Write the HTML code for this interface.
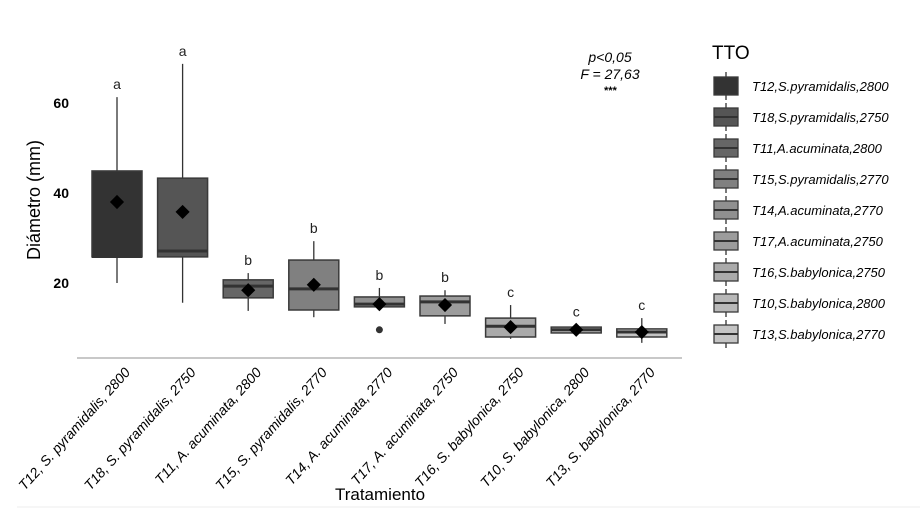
<!DOCTYPE html>
<html><head><meta charset="utf-8">
<style>
body{margin:0;background:#fff;width:920px;height:510px;overflow:hidden;font-family:"Liberation Sans",sans-serif}
svg{display:block}
</style></head>
<body>
<svg id="chart" width="920" height="510">
<text x="0" y="0" transform="translate(40,200) rotate(-90)" text-anchor="middle" font-size="18" fill="#000">Diámetro (mm)</text>
<text x="380" y="500" text-anchor="middle" font-size="17" fill="#000">Tratamiento</text>
<line x1="77" y1="358" x2="682" y2="358" stroke="#c8c8c8" stroke-width="2"/>
<line x1="17" y1="507" x2="920" y2="507" stroke="#eeeeee" stroke-width="1"/>
<g font-style="italic" font-size="14" font-weight="bold" text-anchor="middle" fill="#000">
<text x="610" y="62" font-weight="normal">p&lt;0,05</text>
<text x="610" y="79" font-weight="normal">F = 27,63</text>
<text x="610" y="94" font-size="11">***</text>
</g>
<text x="712" y="59" font-size="19" fill="#000">TTO</text>
<g id="plot"></g>
<g id="legend"></g>
</svg>
<script>
const categories=["T12, S. pyramidalis, 2800","T18, S. pyramidalis, 2750","T11, A. acuminata, 2800","T15, S. pyramidalis, 2770","T14, A. acuminata, 2770","T17, A. acuminata, 2750","T16, S. babylonica, 2750","T10, S. babylonica, 2800","T13, S. babylonica, 2770"];
const legendLabels=["T12,S.pyramidalis,2800","T18,S.pyramidalis,2750","T11,A.acuminata,2800","T15,S.pyramidalis,2770","T14,A.acuminata,2770","T17,A.acuminata,2750","T16,S.babylonica,2750","T10,S.babylonica,2800","T13,S.babylonica,2770"];
const whiskerLow=[20,15.6,13.8,12.4,14.7,10.9,7.6,8.9,6.7];
const q1=[25.8,25.8,16.7,14,14.7,12.7,8,8.9,8];
const medians=[25.9,27.1,19.3,18.7,15.3,15.8,10.4,9.6,9.1];
const q3=[44.9,43.3,20.7,25.1,16.9,17.1,12.2,10.2,9.8];
const whiskerHigh=[61.3,68.7,22.2,29.3,18.9,18.4,15.1,10.8,12.2];
const means=[38,35.8,18.4,19.6,15.3,15.1,10.2,9.6,9.1];
const outliers=[[],[],[],[],[9.6],[],[],[],[]];
const letters=["a","a","b","b","b","b","c","c","c"];
const yTicks=[20,40,60];
const fills=["#333333","#555555","#666666","#808080","#909090","#9c9c9c","#aaaaaa","#b8b8b8","#c4c4c4"];

const NS="http://www.w3.org/2000/svg";
function y(v){return 283-(v-20)*4.5;}
function x(i){return 117+i*65.6;}
function mk(tag,attrs,parent){const e=document.createElementNS(NS,tag);for(const k in attrs)e.setAttribute(k,attrs[k]);parent.appendChild(e);return e;}
const plot=document.getElementById('plot');
yTicks.forEach(t=>{
  const e=mk('text',{x:69,y:y(t)+5,'text-anchor':'end','font-size':14,'font-weight':'bold',fill:'#000'},plot);
  e.textContent=t;
  
  
});
categories.forEach((c,i)=>{
  const cx=x(i),w=50;
  const g=mk('g',{},plot);
  
  
  mk('line',{x1:cx,x2:cx,y1:y(whiskerHigh[i]),y2:y(whiskerLow[i]),stroke:'#333','stroke-width':1.3},g);
  mk('rect',{x:cx-w/2,y:y(q3[i]),width:w,height:Math.max(y(q1[i])-y(q3[i]),1),fill:fills[i],stroke:'#3a3a3a','stroke-width':1.5},g);
  mk('line',{x1:cx-w/2,x2:cx+w/2,y1:y(medians[i]),y2:y(medians[i]),stroke:'#333','stroke-width':3},g);
  outliers[i].forEach(o=>{
    const p=mk('circle',{cx:cx,cy:y(o),r:3.5,fill:'#333'},g);
    
    
  });
  const m=mk('rect',{x:cx-5,y:y(means[i])-5,width:10,height:10,fill:'#000',transform:`rotate(45 ${cx} ${y(means[i])})`},g);
  
  
  const l=mk('text',{x:cx,y:y(whiskerHigh[i])-8,'text-anchor':'middle','font-size':14,fill:'#222'},plot);
  l.textContent=letters[i];
  
  
  const tl=mk('text',{x:0,y:0,'text-anchor':'end','font-size':14,'font-style':'italic',fill:'#000',transform:`translate(${cx+14},${373}) rotate(-48)`},plot);
  tl.textContent=c;
  
  
});
const leg=document.getElementById('legend');
legendLabels.forEach((t,i)=>{
  const yy=86+i*31;
  const g=mk('g',{},leg);
  
  
  mk('line',{x1:726,x2:726,y1:yy-14,y2:yy+14,stroke:'#333','stroke-width':1.3},g);
  mk('rect',{x:714,y:yy-9,width:24,height:18,fill:fills[i],stroke:'#3a3a3a','stroke-width':1.3},g);
  if(i>0)mk('line',{x1:714,x2:738,y1:yy,y2:yy,stroke:'#333','stroke-width':2},g);
  const tx=mk('text',{x:752,y:yy+5,'font-size':13,'font-style':'italic',fill:'#000'},g);
  tx.textContent=t;
});
</script>
</body></html>
